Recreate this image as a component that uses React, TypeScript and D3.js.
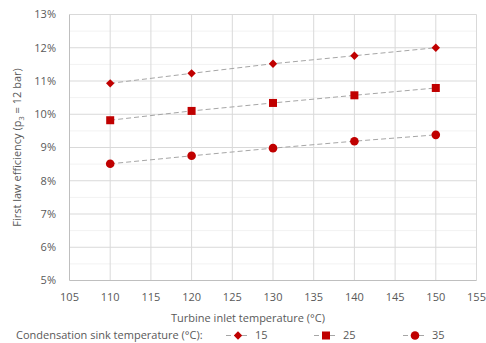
import React from "react";
import * as d3 from "d3";

const temps = [110, 120, 130, 140, 150];
const eff15 = [10.93, 11.23, 11.52, 11.76, 12.0];
const eff25 = [9.82, 10.1, 10.34, 10.57, 10.79];
const eff35 = [8.51, 8.75, 8.98, 9.19, 9.38];
const seriesNames = ["15", "25", "35"];
const xTicks = [105, 110, 115, 120, 125, 130, 135, 140, 145, 150, 155];
const yTicks = [5, 6, 7, 8, 9, 10, 11, 12, 13];

const W = 486, H = 343;
const L = 69.5, R = 476.5, T = 14.5, B = 280.5;
const RED = "#C00000";
const FONT = "'Open Sans', 'Segoe UI', sans-serif";
const TXT = "#595959";

function Marker({ kind, x, y }: { kind: string; x: number; y: number }) {
  if (kind === "diamond") {
    const s = 4.2;
    return <path d={`M${x},${y - s}L${x + s},${y}L${x},${y + s}L${x - s},${y}Z`} fill={RED} />;
  }
  if (kind === "square") {
    return <rect x={x - 4} y={y - 4} width={8} height={8} fill={RED} />;
  }
  return <circle cx={x} cy={y} r={4.3} fill={RED} />;
}

export default function App() {
  const x = d3.scaleLinear().domain([105, 155]).range([L, R]);
  const y = d3.scaleLinear().domain([5, 13]).range([B, T]);
  const series = [
    { name: seriesNames[0], vals: eff15, kind: "diamond" },
    { name: seriesNames[1], vals: eff25, kind: "square" },
    { name: seriesNames[2], vals: eff35, kind: "circle" },
  ];
  const line = d3.line<number>().x((_, i) => x(temps[i])).y((d) => y(d));
  const minor = d3.range(5.5, 13, 1);
  const legendX = [238, 326, 415];
  const legY = 335.5;
  return (
    <svg width={W} height={H} style={{ position: "absolute", left: 0, top: 0 }} fontFamily={FONT}>
      <rect width={W} height={H} fill="#fff" />
      {minor.map((v) => (
        <line key={"m" + v} x1={L} x2={R} y1={y(v)} y2={y(v)} stroke="#F2F2F2" strokeWidth={1} />
      ))}
      {yTicks.slice(1).map((v) => (
        <line key={"y" + v} x1={L} x2={R} y1={y(v)} y2={y(v)} stroke="#D9D9D9" strokeWidth={1} />
      ))}
      {xTicks.slice(1).map((v) => (
        <line key={"x" + v} x1={x(v)} x2={x(v)} y1={T} y2={B} stroke="#D9D9D9" strokeWidth={1} />
      ))}
      <line x1={L} x2={L} y1={T} y2={B} stroke="#BFBFBF" />
      <line x1={L} x2={R} y1={B} y2={B} stroke="#BFBFBF" />
      {yTicks.map((v) => (
        <text key={"yt" + v} x={56} y={y(v)} dy="0.35em" textAnchor="end" fontSize={11} fill={TXT}>
          {v}%
        </text>
      ))}
      {xTicks.map((v) => (
        <text key={"xt" + v} x={x(v)} y={297} dy="0.35em" textAnchor="middle" fontSize={11} fill={TXT}>
          {v}
        </text>
      ))}
      <text x={(L + R) / 2 - 25} y={318} dy="0.35em" textAnchor="middle" fontSize={11} fill={TXT}>
        Turbine inlet temperature (°C)
      </text>
      <text
        transform={`translate(17,${(T + B) / 2}) rotate(-90)`}
        dy="0.35em"
        textAnchor="middle"
        fontSize={11}
        fill={TXT}
      >
        First law efficiency (p<tspan fontSize={7.5} dy="3">3</tspan>
        <tspan dy="-3"> = 12 bar)</tspan>
      </text>
      {series.map((s) => (
        <g key={s.name}>
          <path d={line(s.vals) || ""} fill="none" stroke="#A6A6A6" strokeWidth={1} strokeDasharray="5,3" />
          {s.vals.map((v, i) => (
            <Marker key={i} kind={s.kind} x={x(temps[i])} y={y(v)} />
          ))}
        </g>
      ))}
      <text x={16} y={legY} dy="0.35em" fontSize={11} fill={TXT}>
        Condensation sink temperature  (°C):
      </text>
      {series.map((s, i) => (
        <g key={"lg" + s.name}>
          <line x1={legendX[i] - 12} x2={legendX[i] + 12} y1={legY} y2={legY} stroke="#A6A6A6" strokeDasharray="5,3" />
          <Marker kind={s.kind} x={legendX[i]} y={legY} />
          <text x={legendX[i] + 17} y={legY} dy="0.35em" fontSize={11} fill={TXT}>
            {s.name}
          </text>
        </g>
      ))}
    </svg>
  );
}
